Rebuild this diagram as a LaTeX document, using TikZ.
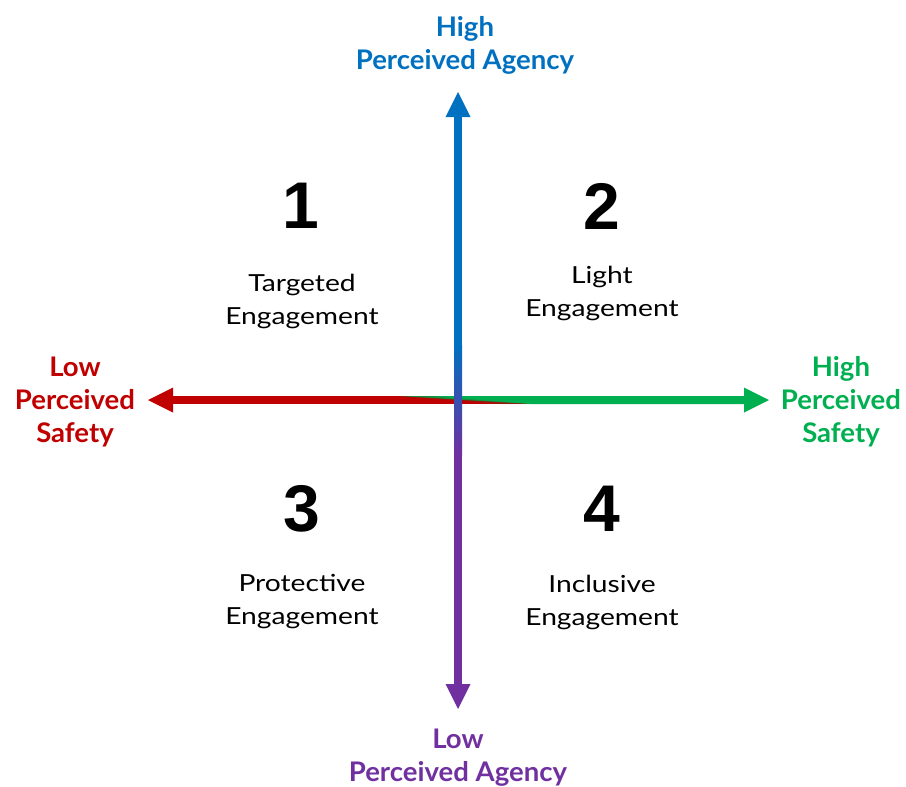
\documentclass[tikz,border=0pt]{standalone}
\usepackage{fontspec}
\setmainfont{Lato}
\newfontfamily\numfont{Liberation Sans}
\newfontfamily\quadfont[FakeStretch=1.2]{Lato}
\newfontfamily\axisfont[FakeStretch=1.02]{Lato}
\definecolor{cblue}{HTML}{0070C0}
\definecolor{cred}{HTML}{C00000}
\definecolor{cgreen}{HTML}{00B050}
\definecolor{cpurple}{HTML}{7030A0}
\begin{document}
\begin{tikzpicture}[x=1pt,y=-1pt,
  axislabel/.style={align=center,font=\axisfont\fontsize{27}{33}\selectfont\bfseries,inner sep=0pt},
  quadnum/.style={font=\fontsize{66}{66}\selectfont\numfont\bfseries,inner sep=0pt},
  quadtext/.style={align=center,font=\quadfont\fontsize{23.5}{33}\selectfont,inner sep=0pt}]
\useasboundingbox (0,0) rectangle (906,787);
% coordinates
\coordinate (L) at (148,400);
\coordinate (R) at (769,400);
\coordinate (T) at (458,92);
\coordinate (B) at (458,709);
% horizontal axis: red to green with a diagonal blend
\fill[cred] (173,396) rectangle (530,404);
\fill[cgreen] (400,396) -- (744,396) -- (744,404) -- (530,404) -- cycle;
\fill[cred!50!cgreen!80!black,opacity=0.35] (400,396) -- (430,396) -- (530,404) -- (500,404) -- cycle;
\fill[cred] (L) -- ++(25,-12.5) -- ++(0,25) -- cycle;
\fill[cgreen] (R) -- ++(-25,-12.5) -- ++(0,25) -- cycle;
% vertical axis
\fill[cblue] (454,116) rectangle (462,345);
\shade[top color=cblue,bottom color=cpurple] (454,345) rectangle (462,455);
\fill[cpurple] (454,455) rectangle (462,685);
\fill[cblue] (T) -- ++(-12.5,25) -- ++(25,0) -- cycle;
\fill[cpurple] (B) -- ++(-12.5,-25) -- ++(25,0) -- cycle;
% axis labels
\node[axislabel,text=cblue] (top) at (465,45) {High\\Perceived Agency};
\node[axislabel,text=cpurple] (bot) at (458,757.5) {Low\\Perceived Agency};
\node[axislabel,text=cred] (left) at (75,402) {Low\\Perceived\\Safety};
\node[axislabel,text=cgreen] (right) at (841,402) {High\\Perceived\\Safety};
% quadrants
\node[quadnum] (n1) at (301,206) {1};
\node[quadnum] (n2) at (602,206) {2};
\node[quadnum] (n3) at (302,509) {3};
\node[quadnum] (n4) at (602,509) {4};
\node[quadtext] (q1) at (302,301) {Targeted\\Engagement};
\node[quadtext] (q2) at (602,293) {Light\\Engagement};
\node[quadtext] (q3) at (302,602) {Protective\\Engagement};
\node[quadtext] (q4) at (602,602) {Inclusive\\Engagement};
\end{tikzpicture}
\end{document}
